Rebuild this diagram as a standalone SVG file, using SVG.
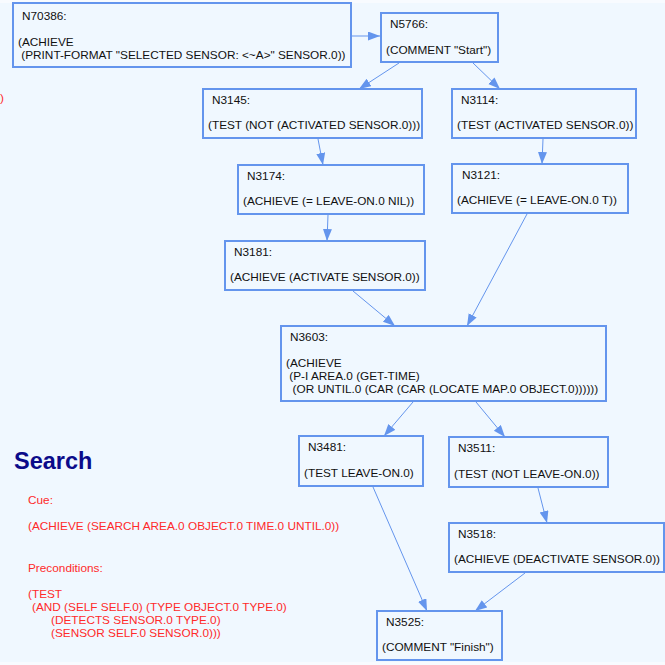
<svg xmlns="http://www.w3.org/2000/svg" width="665" height="665" viewBox="0 0 665 665">
<defs>
<style>
.box{fill:none;stroke:#6495ED;stroke-width:2}
.t{font-family:"Liberation Sans",Arial,sans-serif;font-size:11.8px;fill:#111}
.e{fill:none;stroke:#6495ED;stroke-width:1}
.r{font-family:"Liberation Sans",Arial,sans-serif;font-size:11.8px;fill:#ff2a2a}
.title{font-family:"Liberation Sans",Arial,sans-serif;font-size:23.5px;font-weight:bold;fill:#0b0b8a}
</style>
<marker id="ah" markerUnits="userSpaceOnUse" markerWidth="13" markerHeight="10" refX="12" refY="4.5" orient="auto">
<path d="M0,0 L12,4.5 L0,9 z" fill="#6495ED"/>
</marker>
</defs>
<rect x="0" y="0" width="665" height="665" fill="#f8fbff"/>
<rect x="0" y="3" width="665" height="659" fill="#F0F8FF"/>

<g id="connectors">
<line class="e" x1="351" y1="36" x2="380" y2="36" marker-end="url(#ah)"/>
<line class="e" x1="399" y1="63" x2="359" y2="89" marker-end="url(#ah)"/>
<line class="e" x1="473" y1="63" x2="500" y2="89" marker-end="url(#ah)"/>
<line class="e" x1="318" y1="139" x2="323" y2="165" marker-end="url(#ah)"/>
<line class="e" x1="328" y1="215" x2="327" y2="241" marker-end="url(#ah)"/>
<line class="e" x1="543" y1="139" x2="542" y2="164" marker-end="url(#ah)"/>
<line class="e" x1="353" y1="291" x2="395" y2="326" marker-end="url(#ah)"/>
<line class="e" x1="527" y1="214" x2="467" y2="326" marker-end="url(#ah)"/>
<line class="e" x1="413" y1="402" x2="384" y2="436" marker-end="url(#ah)"/>
<line class="e" x1="476" y1="402" x2="505" y2="437" marker-end="url(#ah)"/>
<line class="e" x1="373" y1="487" x2="427" y2="611" marker-end="url(#ah)"/>
<line class="e" x1="538" y1="488" x2="547" y2="523" marker-end="url(#ah)"/>
<line class="e" x1="525" y1="573" x2="475" y2="611" marker-end="url(#ah)"/>
</g>

<g id="N70386">
<rect class="box" x="13" y="3" width="338" height="64"/>
<text class="t" x="22" y="20">N70386:</text>
<text class="t" x="18" y="46">(ACHIEVE</text>
<text class="t" x="18" y="59" xml:space="preserve"> (PRINT-FORMAT "SELECTED SENSOR: &lt;~A&gt;" SENSOR.0))</text>
</g>
<g id="N5766">
<rect class="box" x="381" y="13" width="117" height="49"/>
<text class="t" x="390" y="28">N5766:</text>
<text class="t" x="386" y="54">(COMMENT "Start")</text>
</g>
<g id="N3145">
<rect class="box" x="203" y="89" width="219" height="49"/>
<text class="t" x="212" y="104">N3145:</text>
<text class="t" x="208" y="129">(TEST (NOT (ACTIVATED SENSOR.0)))</text>
</g>
<g id="N3114">
<rect class="box" x="452" y="89" width="184" height="49"/>
<text class="t" x="461" y="104">N3114:</text>
<text class="t" x="457" y="129">(TEST (ACTIVATED SENSOR.0))</text>
</g>
<g id="N3174">
<rect class="box" x="238" y="165" width="186" height="49"/>
<text class="t" x="247" y="180">N3174:</text>
<text class="t" x="243" y="205">(ACHIEVE (= LEAVE-ON.0 NIL))</text>
</g>
<g id="N3121">
<rect class="box" x="452" y="164" width="176" height="49"/>
<text class="t" x="462" y="179">N3121:</text>
<text class="t" x="457" y="204">(ACHIEVE (= LEAVE-ON.0 T))</text>
</g>
<g id="N3181">
<rect class="box" x="225" y="241" width="200" height="49"/>
<text class="t" x="234" y="256">N3181:</text>
<text class="t" x="230" y="281">(ACHIEVE (ACTIVATE SENSOR.0))</text>
</g>
<g id="N3603">
<rect class="box" x="281" y="326" width="325" height="75"/>
<text class="t" x="290" y="341">N3603:</text>
<text class="t" x="286" y="367">(ACHIEVE</text>
<text class="t" x="286" y="380" xml:space="preserve"> (P-I AREA.0 (GET-TIME)</text>
<text class="t" x="286" y="393" xml:space="preserve">  (OR UNTIL.0 (CAR (CAR (LOCATE MAP.0 OBJECT.0))))))</text>
</g>
<g id="N3481">
<rect class="box" x="299" y="436" width="124" height="50"/>
<text class="t" x="308" y="451">N3481:</text>
<text class="t" x="304" y="477">(TEST LEAVE-ON.0)</text>
</g>
<g id="N3511">
<rect class="box" x="449" y="437" width="159" height="50"/>
<text class="t" x="458" y="452">N3511:</text>
<text class="t" x="454" y="478">(TEST (NOT LEAVE-ON.0))</text>
</g>
<g id="N3518">
<rect class="box" x="449" y="523" width="215" height="49"/>
<text class="t" x="458" y="538">N3518:</text>
<text class="t" x="454" y="563">(ACHIEVE (DEACTIVATE SENSOR.0))</text>
</g>
<g id="N3525">
<rect class="box" x="377" y="611" width="125" height="49"/>
<text class="t" x="386" y="626">N3525:</text>
<text class="t" x="382" y="651">(COMMENT "Finish")</text>
</g>

<g id="legend">
<text class="title" x="14" y="469">Search</text>
<text class="r" x="28" y="504">Cue:</text>
<text class="r" x="28" y="530">(ACHIEVE (SEARCH AREA.0 OBJECT.0 TIME.0 UNTIL.0))</text>
<text class="r" x="28" y="572">Preconditions:</text>
<text class="r" x="28" y="598">(TEST</text>
<text class="r" x="32" y="611">(AND (SELF SELF.0) (TYPE OBJECT.0 TYPE.0)</text>
<text class="r" x="51" y="624">(DETECTS SENSOR.0 TYPE.0)</text>
<text class="r" x="51" y="637">(SENSOR SELF.0 SENSOR.0)))</text>
<text class="r" x="0" y="102">)</text>
</g>
</svg>
